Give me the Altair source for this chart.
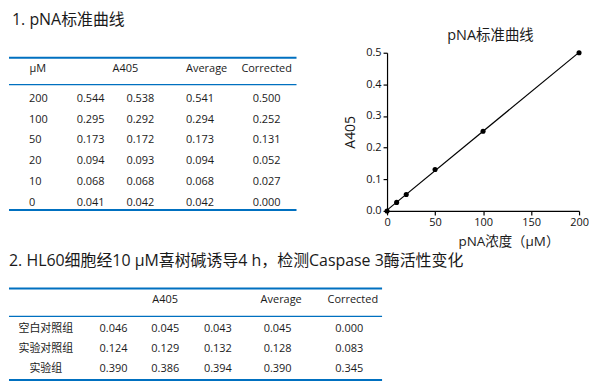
import altair as alt
import pandas as pd

FONT = "Open Sans, Noto Sans CJK SC"
BLUE = "#0070C0"
INK = "#1a1a1a"

# ---------------- data ----------------
title1 = "1. pNA标准曲线"
title2 = "2. HL60细胞经10 μM喜树碱诱导4 h，检测Caspase 3酶活性变化"
chart_title = "pNA标准曲线"
x_title = "pNA浓度（μM）"
y_title = "A405"

# table 1 (standard curve)
t1_headers = ["μM", "A405", "Average", "Corrected"]
t1_head_cols = [0, 1.7, 3.1, 4]          # logical column positions of the headers
t1_conc = [200, 100, 50, 20, 10, 0]
t1_rep1 = [0.544, 0.295, 0.173, 0.094, 0.068, 0.041]
t1_rep2 = [0.538, 0.292, 0.172, 0.093, 0.068, 0.042]
t1_avg = [0.541, 0.294, 0.173, 0.094, 0.068, 0.042]
t1_corr = [0.500, 0.252, 0.131, 0.052, 0.027, 0.000]

# table 2 (Caspase 3 activity)
t2_headers = ["A405", "Average", "Corrected"]
t2_head_cols = [2, 4.05, 5.05]
t2_groups = ["空白对照组", "实验对照组", "实验组"]
t2_rep1 = [0.046, 0.124, 0.390]
t2_rep2 = [0.045, 0.129, 0.386]
t2_rep3 = [0.043, 0.132, 0.394]
t2_avg = [0.045, 0.128, 0.390]
t2_corr = [0.000, 0.083, 0.345]

x_ticks = [0, 50, 100, 150, 200]
y_ticks = [0.0, 0.1, 0.2, 0.3, 0.4, 0.5]

# ---------------- tables built from the lists ----------------
one = alt.Data(values=[{}])

def txt_layer(df, **kw):
    return alt.Chart(df).mark_text(font=FONT, color=INK, baseline="middle", **kw)

def rule(x1, x2, y, w):
    return alt.Chart(one).mark_rule(color=BLUE, strokeWidth=w).encode(
        x=alt.value(x1), x2=alt.value(x2), y=alt.value(y))

# --- table 1
t1_cells = pd.DataFrame([
    {"r": i, "c": j + 1, "txt": f"{v:.3f}"}
    for j, col in enumerate([t1_rep1, t1_rep2, t1_avg, t1_corr])
    for i, v in enumerate(col)
])
t1_rows = pd.DataFrame({"r": list(range(len(t1_conc))), "c": 0,
                        "txt": [str(v) for v in t1_conc]})
t1_head = pd.DataFrame({"c": t1_head_cols, "txt": t1_headers})

x1s = alt.Scale(domain=[0, 1, 2, 3, 4], range=[29, 82, 132, 192, 259], nice=False, zero=False)
y1s = alt.Scale(domain=[0, 5], range=[90.3, 194.7], nice=False, zero=False)

t1 = alt.layer(
    rule(0, 289, 49, 2),
    rule(0, 289, 76, 1.2),
    rule(0, 289, 202, 2),
    txt_layer(t1_head, fontSize=11).encode(
        x=alt.X("c:Q", scale=x1s, axis=None), y=alt.value(60), text="txt:N"),
    txt_layer(t1_rows, fontSize=11, align="left", dx=-9).encode(
        x=alt.X("c:Q", scale=x1s, axis=None),
        y=alt.Y("r:Q", scale=y1s, axis=None), text="txt:N"),
    txt_layer(t1_cells, fontSize=11, align="center").encode(
        x=alt.X("c:Q", scale=x1s, axis=None),
        y=alt.Y("r:Q", scale=y1s, axis=None), text="txt:N"),
)

# --- table 2
t2_cells = pd.DataFrame([
    {"r": i, "c": j + 1, "txt": f"{v:.3f}"}
    for j, col in enumerate([t2_rep1, t2_rep2, t2_rep3, t2_avg, t2_corr])
    for i, v in enumerate(col)
])
t2_rows = pd.DataFrame({"r": list(range(len(t2_groups))), "c": 0, "txt": t2_groups})
t2_head = pd.DataFrame({"c": t2_head_cols, "txt": t2_headers})

x2s = alt.Scale(domain=[0, 1, 2, 3, 4, 5], range=[37, 105, 157, 210, 270, 342],
                nice=False, zero=False)
y2s = alt.Scale(domain=[0, 2], range=[321.3, 362], nice=False, zero=False)

t2 = alt.layer(
    rule(0, 375, 281, 2),
    rule(0, 375, 309, 1.2),
    rule(0, 375, 373, 2),
    txt_layer(t2_head, fontSize=11).encode(
        x=alt.X("c:Q", scale=x2s, axis=None), y=alt.value(293), text="txt:N"),
    txt_layer(t2_rows, fontSize=11, align="center").encode(
        x=alt.X("c:Q", scale=x2s, axis=None),
        y=alt.Y("r:Q", scale=y2s, axis=None), text="txt:N"),
    txt_layer(t2_cells, fontSize=11, align="center").encode(
        x=alt.X("c:Q", scale=x2s, axis=None),
        y=alt.Y("r:Q", scale=y2s, axis=None), text="txt:N"),
)

titles = alt.layer(
    txt_layer(pd.DataFrame({"t": [title1]}), fontSize=16, align="left").encode(
        x=alt.value(3), y=alt.value(11.5), text="t:N"),
    txt_layer(pd.DataFrame({"t": [title2]}), fontSize=16, align="left").encode(
        x=alt.value(0), y=alt.value(253), text="t:N"),
)

left = alt.layer(titles, t1, t2).resolve_scale(x="independent", y="independent").properties(
    width=380, height=375)

# ---------------- standard curve chart ----------------
pts_df = pd.DataFrame({"conc": t1_conc, "a": t1_corr})
base = alt.Chart(pts_df)

xs = alt.Scale(domain=[0, 200], nice=False, zero=True)
ys = alt.Scale(domain=[0, 0.5], range=[203, 44], nice=False, zero=True)

x_axis = alt.Axis(values=x_ticks, title=x_title, grid=False, domainColor="black",
                  tickColor="black", tickSize=4, domainWidth=1.2, tickWidth=1.2,
                  labelColor="#111", labelFont=FONT, labelFontSize=11, labelPadding=2,
                  labelFlush=False, titleFont=FONT, titleFontSize=13.5,
                  titleFontWeight="normal", titleColor=INK, titleX=122, titleY=31,
                  titleBaseline="middle")
y_axis = alt.Axis(values=y_ticks, format=".1f", title=y_title, grid=False,
                  domainColor="black", tickColor="black", tickSize=4, domainWidth=1.2,
                  tickWidth=1.2, labelColor="#111", labelFont=FONT, labelFontSize=11,
                  labelPadding=2, labelFlush=False, titleFont=FONT, titleFontSize=14,
                  titleFontWeight="normal", titleColor=INK, titleX=-36.5, titleY=123.5,
                  titleBaseline="middle", titleAngle=270)

fit = base.transform_regression("conc", "a", extent=[0, 200]).mark_line(
    color="black", strokeWidth=1.2).encode(
    x=alt.X("conc:Q", scale=xs, axis=x_axis),
    y=alt.Y("a:Q", scale=ys, axis=y_axis))
dots = base.mark_circle(size=26, color="black", opacity=1).encode(
    x=alt.X("conc:Q", scale=xs), y=alt.Y("a:Q", scale=ys))
ctitle = txt_layer(pd.DataFrame({"t": [chart_title]}), fontSize=14.5, align="center").encode(
    x=alt.value(104), y=alt.value(27), text="t:N")

curve = alt.layer(fit, dots, ctitle).properties(width=193, height=203)

chart = alt.hconcat(left, curve, spacing=0, bounds="flush").properties(
    padding=0).configure_view(stroke=None)

chart.save("out.html", embed_options={"renderer": "svg", "actions": False})
